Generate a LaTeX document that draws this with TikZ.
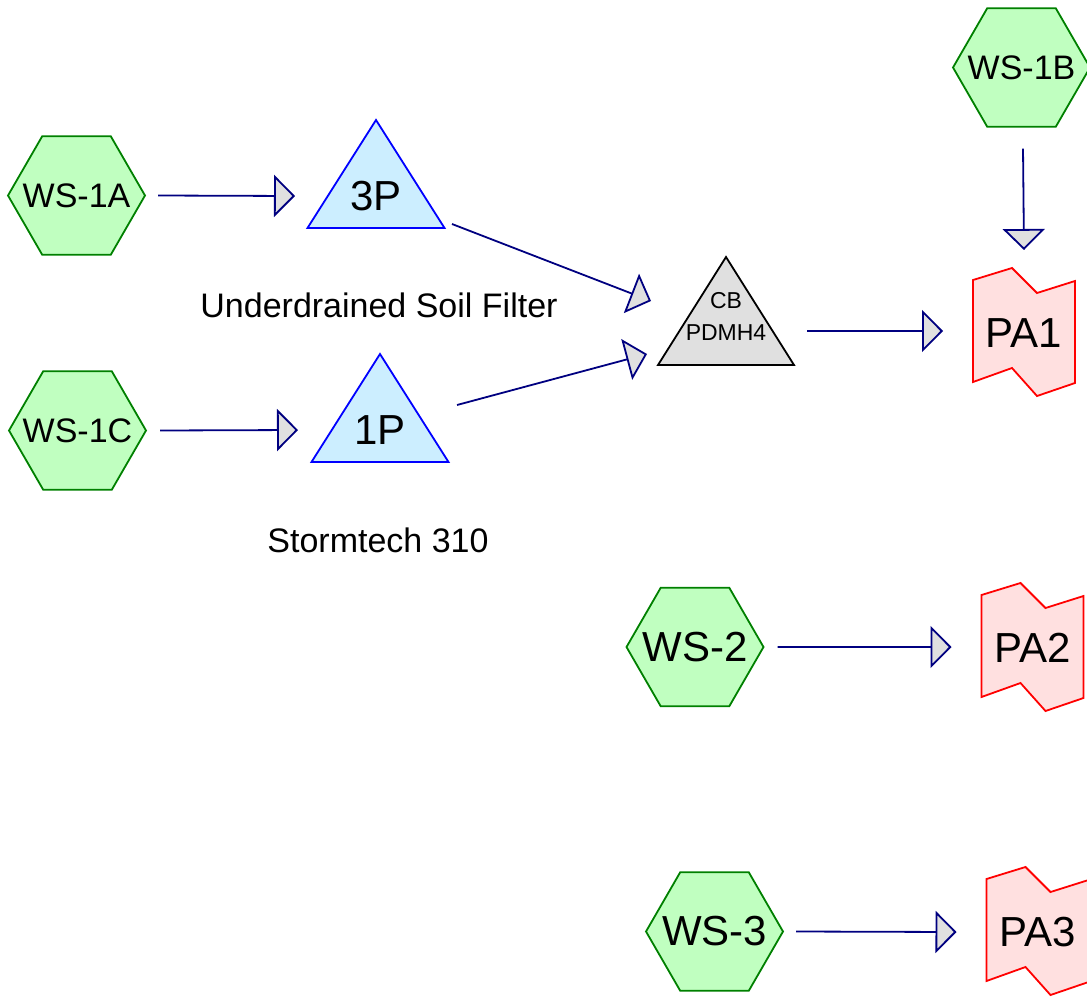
\documentclass[tikz,border=0pt]{standalone}
\usepackage{fontspec}
\setmainfont{Liberation Sans}
\usetikzlibrary{shapes.geometric,arrows.meta,calc,backgrounds}
\definecolor{wsfill}{RGB}{192,255,192}
\definecolor{wsline}{RGB}{0,128,0}
\definecolor{pondfill}{RGB}{204,238,255}
\definecolor{cbfill}{RGB}{224,224,224}
\definecolor{pafill}{RGB}{255,224,224}
\definecolor{flowline}{RGB}{0,0,128}
\tikzset{
  ws/.style={regular polygon, regular polygon sides=6, minimum size=137pt,
    inner sep=-20pt, draw=wsline, fill=wsfill, line width=1.8pt},
  bigtxt/.style={font=\fontsize{42}{48}\selectfont},
  midtxt/.style={font=\fontsize{34}{40}\selectfont},
  smalltxt/.style={font=\fontsize{23}{32}\selectfont, align=center},
  flow/.style={draw=flowline, line width=1.8pt,
    -{Triangle[length=21pt,width=42pt,fill=cbfill]}},
  pond/.style={draw=blue, fill=pondfill, line width=1.8pt},
  cbtri/.style={draw=black, fill=cbfill, line width=1.8pt},
  reach/.style={draw=red, fill=pafill, line width=1.8pt},
}
\begin{document}
\begin{tikzpicture}[x=1pt,y=-1pt]
\useasboundingbox (0,0) rectangle (1087,996);
% subcatchments
\node[ws, midtxt] (ws1a) at (76.5,195.5) {WS-1A};
\node[ws, midtxt] (ws1b) at (1021.5,67.5) {WS-1B};
\node[ws, midtxt] (ws1c) at (77.5,430.5) {WS-1C};
\node[ws, bigtxt] (ws2) at (695,647) {WS-2};
\node[ws, bigtxt] (ws3) at (714.5,931.5) {WS-3};
% ponds, catch basin and reaches
\node[bigtxt] (p3) at (376,196) {3P};
\node[bigtxt] (p1) at (380,430) {1P};
\node[smalltxt] (cb) at (726,316) {CB\\PDMH4};
\node[bigtxt] (pa1) at (1024,333) {PA1};
\node[bigtxt] (pa2) at (1032.5,648) {PA2};
\node[bigtxt] (pa3) at (1037.5,932) {PA3};
\node[midtxt] (lblsoil) at (379,305) {Underdrained Soil Filter};
\node[midtxt] (lblstorm) at (378,540) {Stormtech 310};

\begin{scope}[on background layer]
\foreach \n in {p3,p1}
\draw[pond, shift={(\n)}] (0,-76) -- (68.5,32) -- (-68.5,32) -- cycle;
\draw[cbtri, shift={(cb)}] (0,-59) -- (68,49) -- (-68,49) -- cycle;
\foreach \n in {pa1,pa2,pa3}
\draw[reach, shift={(\n)}] (-51,-53) -- (-12,-65) -- (13,-40) -- (51,-52)
  -- (51,50) -- (13,63) -- (-12,35) -- (-51,49) -- cycle;
\end{scope}

% flows
\draw[flow] ($(ws1a.east)+(12,0)$) -- ($(p3)+(-81,0)$);
\draw[flow] ($(ws1c.east)+(13,0)$) -- ($(p1)+(-82,0)$);
\draw[flow] ($(p3)+(76,28)$) -- ($(cb)+(-75,-15)$);
\draw[flow] ($(p1)+(77,-25)$) -- ($(cb)+(-79,38)$);
\draw[flow] ($(cb)+(81,15)$) -- ($(pa1)+(-81,-2)$);
\draw[flow] ($(ws1b.south)+(1.5,21)$) -- ($(pa1)+(0,-83)$);
\draw[flow] ($(ws2.east)+(13,0)$) -- ($(pa2)+(-81,-1)$);
\draw[flow] ($(ws3.east)+(12,0)$) -- ($(pa3)+(-81,0)$);
\end{tikzpicture}
\end{document}
